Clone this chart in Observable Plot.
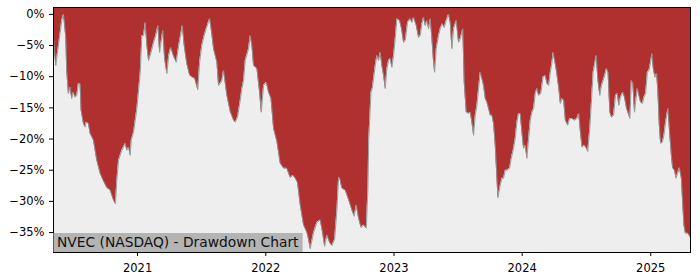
<!DOCTYPE html>
<html><head><meta charset="utf-8">
<script src="https://cdn.jsdelivr.net/npm/d3@7"></script>
<script src="https://cdn.jsdelivr.net/npm/@observablehq/plot@0.6"></script>
<style>
html,body{margin:0;padding:0;background:#fff;}
#chart{width:700px;height:280px;}
</style></head><body><div id="chart"></div>
<script>
// Dates as decimal years, drawdown in percent
const dates = [
2020.346,2020.364,2020.376,2020.397,2020.410,2020.424,2020.442,2020.449,2020.462,2020.475,
2020.488,2020.501,2020.514,2020.527,2020.540,2020.553,2020.561,2020.579,2020.592,2020.600,
2020.618,2020.631,2020.657,2020.683,2020.709,2020.732,2020.761,2020.787,2020.813,2020.828,
2020.839,2020.852,2020.878,2020.904,2020.917,2020.931,2020.943,2020.951,2020.969,2020.995,
2021.021,2021.034,2021.047,2021.060,2021.073,2021.086,2021.099,2021.125,2021.142,2021.159,
2021.172,2021.183,2021.197,2021.211,2021.229,2021.243,2021.259,2021.279,2021.302,2021.321,
2021.333,2021.349,2021.364,2021.384,2021.407,2021.427,2021.446,2021.470,2021.484,2021.501,
2021.520,2021.536,2021.552,2021.563,2021.579,2021.593,2021.619,2021.632,2021.645,2021.658,
2021.671,2021.697,2021.723,2021.749,2021.762,2021.780,2021.801,2021.814,2021.827,2021.840,
2021.866,2021.879,2021.892,2021.905,2021.931,2021.952,2021.965,2021.983,2022.004,2022.022,
2022.041,2022.061,2022.087,2022.113,2022.139,2022.164,2022.191,2022.212,2022.230,2022.248,
2022.269,2022.295,2022.321,2022.335,2022.347,2022.373,2022.399,2022.425,2022.443,2022.459,
2022.477,2022.498,2022.516,2022.537,2022.555,2022.568,2022.577,2022.594,2022.620,2022.646,
2022.672,2022.690,2022.706,2022.724,2022.743,2022.763,2022.784,2022.797,2022.803,2022.810,
2022.821,2022.831,2022.854,2022.867,2022.880,2022.893,2022.906,2022.919,2022.932,2022.945,
2022.958,2022.971,2022.984,2022.997,2023.010,2023.023,2023.044,2023.059,2023.075,2023.088,
2023.106,2023.127,2023.140,2023.153,2023.174,2023.192,2023.205,2023.218,2023.231,2023.244,
2023.257,2023.270,2023.283,2023.296,2023.309,2023.317,2023.330,2023.348,2023.361,2023.377,
2023.392,2023.408,2023.426,2023.439,2023.452,2023.465,2023.486,2023.504,2023.517,2023.537,
2023.548,2023.564,2023.582,2023.595,2023.608,2023.621,2023.634,2023.647,2023.660,2023.673,
2023.686,2023.699,2023.712,2023.725,2023.738,2023.751,2023.764,2023.777,2023.790,2023.803,
2023.811,2023.829,2023.842,2023.855,2023.868,2023.881,2023.902,2023.915,2023.933,2023.946,
2023.959,2023.972,2023.985,2023.998,2024.011,2024.024,2024.037,2024.050,2024.063,2024.076,
2024.089,2024.102,2024.115,2024.128,2024.145,2024.162,2024.180,2024.193,2024.206,2024.219,
2024.232,2024.240,2024.250,2024.266,2024.284,2024.297,2024.310,2024.323,2024.336,2024.354,
2024.370,2024.387,2024.406,2024.426,2024.440,2024.453,2024.466,2024.484,2024.500,2024.510,
2024.526,2024.537,2024.552,2024.562,2024.576,2024.588,2024.604,2024.617,2024.635,2024.656,
2024.668,2024.682,2024.695,2024.711,2024.726,2024.740,2024.752,2024.765,2024.783,2024.796,
2024.812,2024.822,2024.838,2024.849,2024.861,2024.874,2024.882,2024.896,2024.908,2024.921,
2024.935,2024.947,2024.960,2024.974,2024.986,2024.999,2025.009,2025.020,2025.033,2025.046,
2025.056,2025.067,2025.077,2025.091,2025.103,2025.116,2025.134,2025.147,2025.161,2025.171,
2025.186,2025.197,2025.210,2025.223,2025.239,2025.249,2025.259,2025.270,2025.288,2025.310
];
const drawdowns = [
-3.7,-8.2,-6.3,-3.1,-1.0,0,-3.7,-9.0,-12.7,-11.7,
-13.5,-12.5,-13.3,-13.0,-11.1,-11.1,-15.4,-17.5,-18.1,-17.3,
-17.5,-19.1,-20.2,-23.4,-25.5,-26.6,-27.8,-28.2,-29.8,-30.4,
-26.6,-23.4,-21.8,-20.7,-21.8,-21.3,-22.6,-20.2,-18.9,-15.1,
-9.3,-3.4,-3.4,-1.3,-5.0,-7.4,-6.6,-4.5,-3.4,-1.8,
-6.1,-4.5,-2.6,-7.1,-9.5,-6.6,-5.3,-6.6,-7.7,-5.0,
-3.7,-1.8,-5.0,-7.9,-9.8,-10.1,-10.3,-12.1,-7.7,-5.0,
-3.4,-2.3,-1.3,-0.7,-3.1,-5.5,-7.7,-11.4,-11.1,-10.6,
-9.0,-13.0,-15.6,-17.0,-17.3,-16.5,-13.8,-11.9,-10.6,-7.4,
-5.5,-3.4,-5.0,-8.2,-8.7,-12.5,-15.7,-11.4,-10.9,-12.5,
-13.5,-18.3,-20.4,-23.9,-24.7,-24.7,-26.2,-25.8,-26.3,-27.0,
-30.6,-33.8,-35.0,-36.2,-37.6,-35.0,-33.4,-33.0,-35.0,-37.2,
-35.4,-36.6,-37.1,-36.1,-31.4,-26.2,-26.3,-27.9,-28.2,-29.7,
-31.4,-32.4,-30.6,-32.7,-34.2,-33.8,-34.3,-27.9,-20.2,-17.2,
-12.5,-11.9,-8.2,-6.6,-7.4,-6.1,-8.2,-9.8,-11.9,-8.7,
-7.4,-7.1,-8.5,-6.6,-3.9,-0.7,-1.0,-2.3,-4.5,-4.2,
-1.3,-0.7,-1.3,-0.5,-1.8,-3.7,-3.4,-1.5,-0.5,-1.8,
-1.0,-2.3,-0.7,-3.9,-7.7,-9.3,-5.5,-3.4,-2.3,-1.5,
-2.1,-1.0,0,-1.3,-5.5,-2.3,-1.0,-4.5,-3.9,-2.3,
-10.9,-15.7,-15.9,-15.7,-17.3,-19.4,-16.2,-14.6,-11.9,-9.3,
-10.3,-11.4,-13.5,-14.1,-15.1,-16.2,-16.2,-17.5,-21.0,-26.3,
-29.4,-27.4,-26.3,-26.3,-25.0,-25.0,-24.7,-23.1,-21.5,-19.9,
-17.3,-15.9,-15.9,-18.9,-21.5,-21.0,-23.1,-19.9,-17.0,-15.7,
-15.1,-12.7,-11.9,-13.0,-12.7,-10.1,-9.8,-11.1,-11.4,-9.3,
-7.7,-6.1,-7.1,-9.0,-11.7,-14.3,-13.5,-13.8,-17.0,-17.8,
-16.7,-16.7,-17.0,-16.7,-15.9,-18.9,-21.3,-21.0,-21.5,-22.0,
-18.3,-14.6,-9.3,-8.2,-6.6,-10.3,-13.0,-11.4,-10.3,-8.7,
-9.3,-15.7,-16.5,-16.2,-13.0,-12.7,-14.6,-13.3,-12.5,-13.3,
-15.1,-15.7,-16.7,-10.6,-11.1,-15.7,-14.1,-11.9,-13.0,-14.1,
-14.3,-13.3,-12.7,-9.3,-9.0,-7.7,-6.3,-8.7,-10.1,-9.5,
-12.5,-17.8,-20.7,-20.5,-19.4,-17.3,-15.1,-18.9,-22.6,-24.7,
-25.0,-26.3,-25.5,-24.6,-26.3,-30.2,-33.8,-35.1,-35.1,-35.8
];
const yTicks = [0, -5, -10, -15, -20, -25, -30, -35];
const xTickYears = [2021, 2022, 2023, 2024, 2025];
const title = "NVEC (NASDAQ) - Drawdown Chart";
const yDomain = [-38.2, 1.1];

function decimalYearToDate(t) {
  const y = Math.floor(t);
  const s = Date.UTC(y, 0, 1), e = Date.UTC(y + 1, 0, 1);
  return new Date(s + (t - y) * (e - s));
}
const data = dates.map((t, i) => ({date: decimalYearToDate(t), dd: drawdowns[i]}));
const xTicks = xTickYears.map(y => new Date(Date.UTC(y, 0, 1)));

const W = 700, H = 280, mL = 53, mR = 10, mT = 7, mB = 28;
const chart = Plot.plot({
  width: W, height: H,
  marginLeft: mL, marginRight: mR, marginTop: mT, marginBottom: mB,
  style: {fontFamily: "DejaVu Sans", fontSize: "11.5px", color: "black", background: "white"},
  x: {type: "utc", domain: d3.extent(data, d => d.date)},
  y: {domain: yDomain},
  marks: [
    Plot.frame({fill: "#eeeeee", stroke: null}),
    Plot.areaY(data, {x: "date", y1: "dd", y2: yDomain[1], fill: "#b03030"}),
    Plot.lineY(data, {x: "date", y: "dd", stroke: "#8c9696", strokeWidth: 0.9}),
    Plot.frame({stroke: "black", strokeWidth: 1}),
    Plot.axisX({ticks: xTicks, tickFormat: d3.utcFormat("%Y"), tickSize: 4, tickPadding: 7, label: null}),
    Plot.axisY({ticks: yTicks, tickFormat: d => d === 0 ? "0%" : "\u2212" + Math.abs(d) + "%", tickSize: 4, tickPadding: 5, label: null}),
    Plot.text([title], {frameAnchor: "bottom-left", dx: 3.5, dy: -5.3, textAnchor: "start", lineAnchor: "bottom", fontSize: 13.8, fill: "#111"})
  ]
});
document.getElementById("chart").appendChild(chart);

// grey box behind the label, sized from the rendered text
const t = chart.querySelector('g[aria-label="text"] text');
if (t) {
  const sr = chart.getBoundingClientRect();
  const tr = t.getBoundingClientRect();
  const bottom = H - mB;
  const top = tr.top - sr.top - 1.2;
  const right = tr.right - sr.left + 3.5;
  const r = document.createElementNS("http://www.w3.org/2000/svg", "rect");
  r.setAttribute("x", mL + 0.5);
  r.setAttribute("y", top);
  r.setAttribute("width", right - (mL + 0.5));
  r.setAttribute("height", bottom - top);
  r.setAttribute("fill", "#b4b4b4");
  const g = t.parentNode;
  g.parentNode.insertBefore(r, g);
}
</script></body></html>
